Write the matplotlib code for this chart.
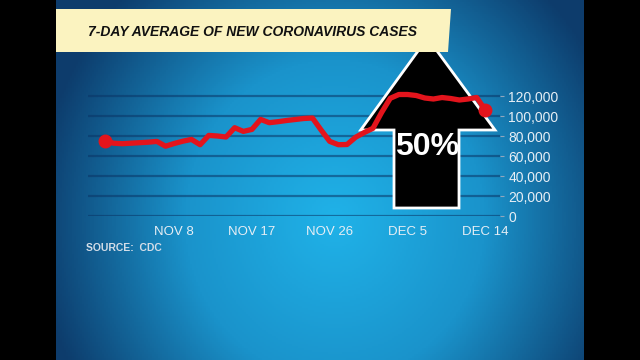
import matplotlib.pyplot as plt
import numpy as np
import pandas as pd
from matplotlib.colors import LinearSegmentedColormap
from matplotlib.patches import Polygon

dates = pd.date_range('2020-10-31', '2020-12-14', freq='D')
cases = [75000, 72800, 72300, 72800, 73300, 73800, 74600, 69800, 72500, 74800,
         76600, 71300, 80600, 80000, 79000, 88300, 84600, 86600, 96600, 93300,
         94300, 95500, 96500, 97500, 98000, 86000, 74600, 71300, 71500, 78800,
         83500, 87700, 103500, 117700, 121500, 121500, 120500, 118000, 117000, 118500,
         117500, 116000, 117000, 118500, 106000]
tick_dates = pd.to_datetime(['2020-11-08', '2020-11-17', '2020-11-26', '2020-12-05', '2020-12-14'])
tick_labels = ['NOV 8', 'NOV 17', 'NOV 26', 'DEC 5', 'DEC 14']
y_ticks = [0, 20000, 40000, 60000, 80000, 100000, 120000]
y_labels = ['0', '20,000', '40,000', '60,000', '80,000', '100,000', '120,000']
title = '7-DAY AVERAGE OF NEW CORONAVIRUS CASES'
source = 'SOURCE:  CDC'
increase = '50%'

W, H = 640, 360
FONT = ['Liberation Sans', 'DejaVu Sans']


def px(x, y):
    # pixel position -> figure fraction
    return x / W, 1 - y / H


def main():
    fig = plt.figure(figsize=(W / 100, H / 100), dpi=100, facecolor='black')

    # blue backdrop with a bright centre
    bg = fig.add_axes([56 / W, 0, 528 / W, 1])
    gx, gy = np.meshgrid(np.linspace(56, 584, 264), np.linspace(0, 360, 180))
    r = np.sqrt(((gx - 335) / 300) ** 2 + ((gy - 220) / 320) ** 2)
    cmap = LinearSegmentedColormap.from_list('tv', ['#20b2e8', '#1a93cb', '#0d3c6c'])
    bg.imshow(np.clip(r, 0, 1), cmap=cmap, aspect='auto', extent=[0, 1, 0, 1])
    bg.set_axis_off()

    ax = fig.add_axes([88 / W, 1 - 216 / H, 412 / W, 130 / H])
    ax.patch.set_alpha(0)

    for y in y_ticks:
        ax.axhline(y, color='#0a3566', alpha=0.55, lw=1.6, zorder=1)

    # big arrow
    arrow = [px(427.5, 38), px(495, 130), px(459, 130), px(459, 208),
             px(394, 208), px(394, 130), px(360.7, 130)]
    ax.add_patch(Polygon(arrow, closed=True, transform=fig.transFigure, facecolor='black',
                         edgecolor='white', lw=2, zorder=2, clip_on=False))
    ax.text(*px(427, 147), increase, transform=fig.transFigure, ha='center', va='center',
            color='white', fontsize=23, fontweight='bold', family=FONT, zorder=3)

    ax.plot(dates, cases, color='#e3141c', lw=3.8, solid_joinstyle='round', zorder=4, clip_on=False)
    ax.plot([dates[0], dates[-1]], [cases[0], cases[-1]], 'o', color='#e3141c', ms=9,
            zorder=5, clip_on=False)

    ax.set_ylim(0, 130000)
    ax.set_xlim(dates[0] - pd.Timedelta(days=1.97), dates[0] + pd.Timedelta(days=45.7))
    ax.yaxis.tick_right()
    ax.set_yticks(y_ticks)
    ax.set_yticklabels(y_labels)
    ax.set_xticks(tick_dates)
    ax.set_xticklabels(tick_labels)
    ax.tick_params(axis='y', length=3, color='#8fa6bd', pad=3, labelsize=10, labelcolor='#e6eef5')
    ax.tick_params(axis='x', length=0, pad=7, labelsize=9.5, labelcolor='#e6eef5')
    for lab in ax.get_xticklabels() + ax.get_yticklabels():
        lab.set_family(FONT)
    for s in ax.spines.values():
        s.set_visible(False)

    # title banner
    banner = [px(56, 9), px(451, 9), px(448, 52), px(56, 52)]
    ax.add_patch(Polygon(banner, closed=True, transform=fig.transFigure, facecolor='#fbf3c0',
                         edgecolor='none', zorder=6, clip_on=False))
    ax.text(*px(88, 32), title, transform=fig.transFigure, ha='left', va='center',
            fontsize=10, fontweight='bold', fontstyle='italic', family=FONT,
            color='#111111', zorder=7)

    ax.text(*px(86, 248), source, transform=fig.transFigure, ha='left', va='center',
            fontsize=7.5, fontweight='bold', family=FONT, color='#d3dde8')

    fig.savefig('out.png', dpi=100, facecolor='black')


if __name__ == '__main__':
    main()
